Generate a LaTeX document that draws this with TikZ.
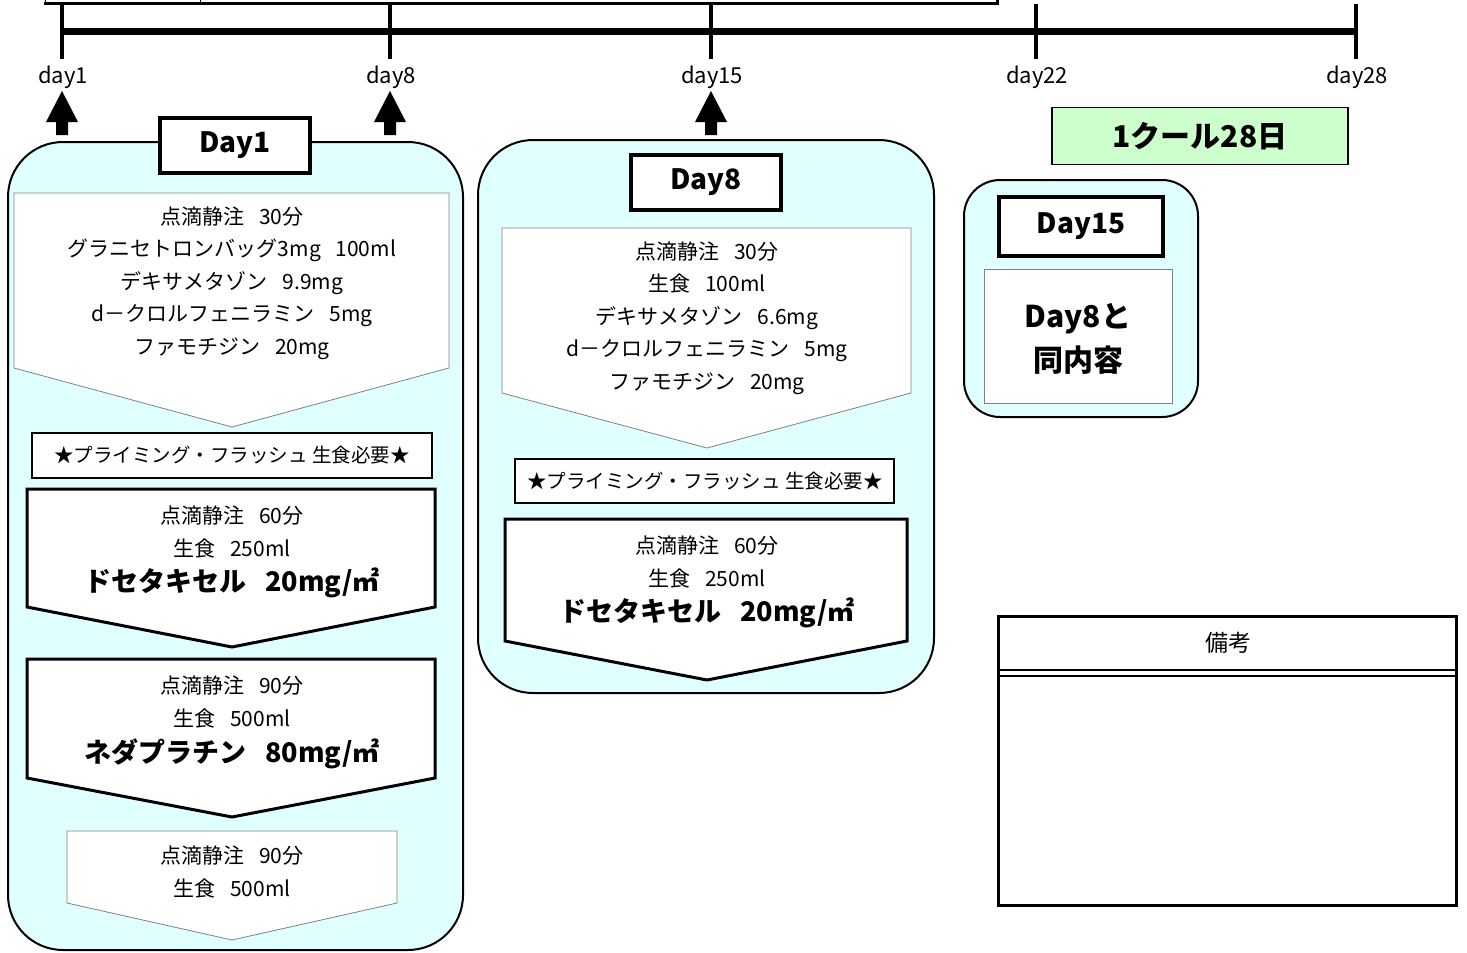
\documentclass[tikz,border=0pt]{standalone}
\usepackage{fontspec}
\setmainfont{Noto Sans CJK JP}
\definecolor{cyanbg}{RGB}{224,255,255}
\definecolor{greenbg}{RGB}{204,255,204}
\begin{document}
\begin{tikzpicture}[x=1pt,y=-1pt,
  container/.style={draw=black,fill=cyanbg,line width=2pt},
  daybox/.style={draw=black,fill=white,line width=4pt,minimum width=150pt,minimum height=55pt,font=\bfseries\fontsize{28}{30}\selectfont},
  thinpent/.style={draw=gray,fill=white,line width=0.8pt},
  thickpent/.style={draw=black,fill=white,line width=3pt},
  starbox/.style={draw=black,fill=white,line width=1.2pt},
  body/.style={align=center,font=\fontsize{21}{32.5}\selectfont},
  bodyb/.style={font=\bfseries\fontsize{27}{30}\selectfont},
  startxt/.style={font=\fontsize{19.5}{22}\selectfont},
  daylbl/.style={font=\fontsize{22}{24}\selectfont},
  uparrow/.style={fill=black}
]
\useasboundingbox (0,0) rectangle (1467,953);

% partial top box
\draw[line width=1pt] (45,-10) -- (45,3);
\draw[line width=1pt] (200,-10) -- (200,3);
\draw[line width=3pt] (44,3) -- (997,3) -- (997,-10);

% timeline
\draw[line width=7pt] (62,31) -- (1356,31);
\foreach \xx/\lab in {62/day1,390/day8,711/day15,1036/day22,1356/day28}{
  \draw[line width=4pt] (\xx,4) -- (\xx,59);
  \node[daylbl] (lbl\lab) at (\xx+1,77) {\lab};
}

% up arrows
\foreach \xx in {62,390,711}{
  \fill[uparrow] (\xx-16,122) -- (\xx,91) -- (\xx+16,122) -- (\xx+6,122) -- (\xx+6,135) -- (\xx-6,135) -- (\xx-6,122) -- cycle;
}

% ===== Day1 =====
\draw[container,rounded corners=55pt] (8,142) rectangle (463,950);
\node[daybox] (d1) at (235,145) {Day1};

\draw[thinpent] (14,193) -- (449,193) -- (449,368) -- (232,427) -- (14,368) -- cycle;
\node[body] (d1a) at (232,283) {点滴静注\hspace{0.7em}30分\\グラニセトロンバッグ3mg\hspace{0.7em}100ml\\デキサメタゾン\hspace{0.7em}9.9mg\\d－クロルフェニラミン\hspace{0.7em}5mg\\ファモチジン\hspace{0.7em}20mg};

\draw[starbox] (32,433) rectangle (432,478);
\node[startxt] (d1s) at (232,455.5) {★プライミング・フラッシュ 生食必要★};

\draw[thickpent] (27,489) -- (435,489) -- (435,607) -- (232,647) -- (27,607) -- cycle;
\node[body] (d1b) at (232,532) {点滴静注\hspace{0.7em}60分\\生食\hspace{0.7em}250ml};
\node[bodyb] (d1bb) at (232,583) {ドセタキセル\hspace{0.7em}20mg/㎡};

\draw[thickpent] (27,659) -- (435,659) -- (435,778) -- (232,817) -- (27,778) -- cycle;
\node[body] (d1c) at (232,702) {点滴静注\hspace{0.7em}90分\\生食\hspace{0.7em}500ml};
\node[bodyb] (d1cc) at (232,754) {ネダプラチン\hspace{0.7em}80mg/㎡};

\draw[thinpent] (67,831) -- (397,831) -- (397,903) -- (232,940) -- (67,903) -- cycle;
\node[body] (d1d) at (232,872) {点滴静注\hspace{0.7em}90分\\生食\hspace{0.7em}500ml};

% ===== Day8 =====
\draw[container,rounded corners=55pt] (478,140) rectangle (934,693);
\node[daybox] (d8) at (706,182) {Day8};

\draw[thinpent] (502,228) -- (911,228) -- (911,393) -- (707,448) -- (502,393) -- cycle;
\node[body] (d8a) at (707,318) {点滴静注\hspace{0.7em}30分\\生食\hspace{0.7em}100ml\\デキサメタゾン\hspace{0.7em}6.6mg\\d－クロルフェニラミン\hspace{0.7em}5mg\\ファモチジン\hspace{0.7em}20mg};

\draw[starbox] (515,459) rectangle (894,503);
\node[startxt] (d8s) at (705,481) {★プライミング・フラッシュ 生食必要★};

\draw[thickpent] (505,519) -- (907,519) -- (907,641) -- (707,680) -- (505,641) -- cycle;
\node[body] (d8b) at (707,562) {点滴静注\hspace{0.7em}60分\\生食\hspace{0.7em}250ml};
\node[bodyb] (d8bb) at (707,613) {ドセタキセル\hspace{0.7em}20mg/㎡};

% ===== Day15 =====
\draw[container,rounded corners=36pt] (964,180) rectangle (1198,417);
\draw[line width=4pt,fill=white] (999,197) rectangle (1163,256);
\node[font=\bfseries\fontsize{28}{30}\selectfont] (d15) at (1081,226.5) {Day15};
\draw[draw=gray,fill=white,line width=1pt] (984,269) rectangle (1172,403);
\node[align=center,font=\bfseries\fontsize{30}{44}\selectfont] (d15t) at (1078,339) {Day8と\\同内容};

% cycle box
\node[draw=black,fill=greenbg,line width=1.5pt,minimum width=296pt,minimum height=57pt,font=\bfseries\fontsize{30}{32}\selectfont] (cyc) at (1200,136) {1クール28日};

% remarks
\draw[line width=3pt] (998,616) rectangle (1456,905);
\draw[line width=2.5pt] (998,670) -- (1456,670);
\draw[line width=2.5pt] (998,676) -- (1456,676);
\node[font=\fontsize{23}{24}\selectfont] (rem) at (1228,643) {備考};
\end{tikzpicture}
\end{document}
